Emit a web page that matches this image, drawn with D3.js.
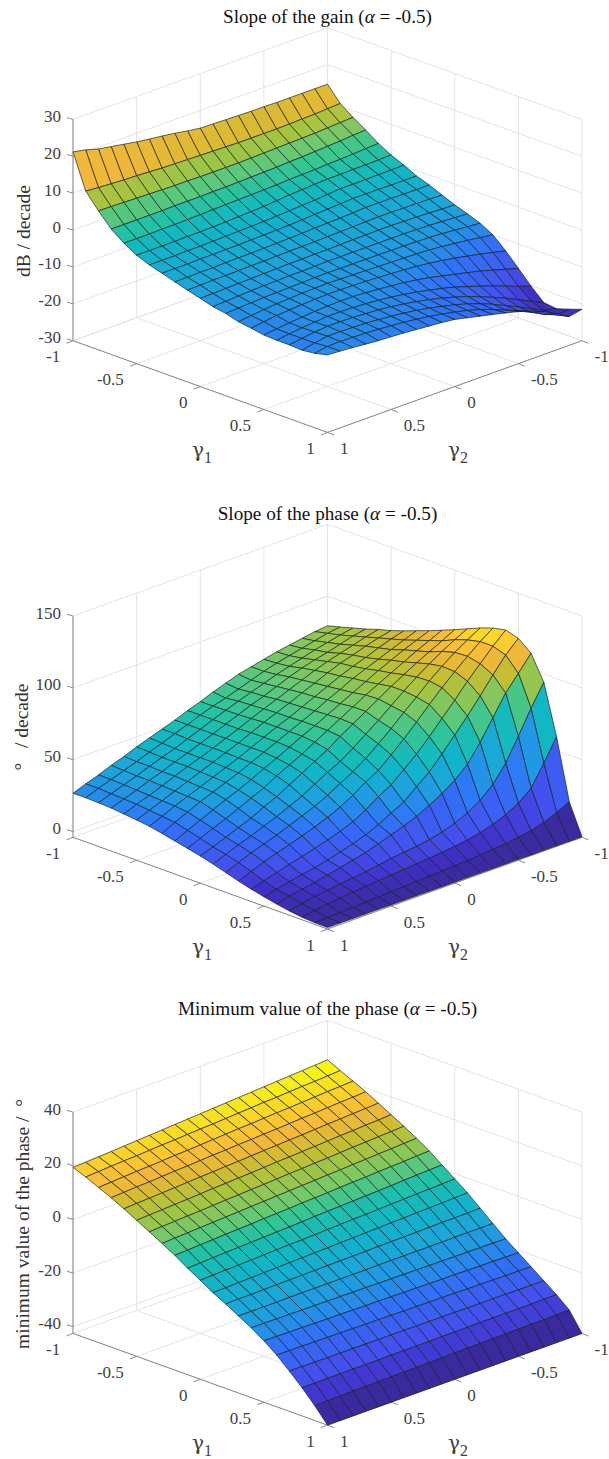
<!DOCTYPE html>
<html lang="en">
<head>
    <meta charset="utf-8">
    <script src="https://d3js.org/d3.v7.min.js"></script>
    <style>
        html, body { margin: 0; background: white; }
        svg { display: block; }
        text { font-family: "Liberation Serif", serif; }
    </style>
</head>
<body>
    <svg id="plot" width="609" height="1459"></svg>
    <script>
    // rows are gamma1 = -1 ... 1, columns are gamma2 = -1 ... 1, step 0.1
    const gammaGrid = [-1,-0.9,-0.8,-0.7,-0.6,-0.5,-0.4,-0.3,-0.2,-0.1,0,0.1,0.2,0.3,0.4,0.5,0.6,0.7,0.8,0.9,1];
    const gammaTicks = [-1,-0.5,0,0.5,1];
    const gainTicks = [-30,-20,-10,0,10,20,30];
    const phaseTicks = [0,50,100,150];
    const minPhaseTicks = [-40,-20,0,20,40];

    const gainSlope = [
        [14.7,14.7,14.7,14.7,14.7,14.8,14.8,14.9,15,15.1,15.2,15.7,16.3,16.8,17.2,17.7,18.3,18.9,19.5,20.5,21.2],
        [10.7,10.5,10.3,10.2,10.1,10,10,10,10,10.1,10.2,10.3,10.4,10.5,10.6,10.8,11,11.1,11.3,11.5,11.8],
        [8.2,8,7.8,7.6,7.5,7.4,7.3,7.2,7.1,7,7,7,7,7.1,7.1,7.2,7.3,7.4,7.5,7.6,7.7],
        [6,5.8,5.5,5.3,5.1,4.9,4.8,4.6,4.5,4.4,4.3,4.2,4.2,4.1,4.1,4.1,4,4,4,4,4],
        [3.6,3.4,3.2,3,2.9,2.7,2.6,2.5,2.3,2.2,2.1,2,1.9,1.8,1.7,1.6,1.5,1.5,1.4,1.4,1.4],
        [1.7,1.6,1.5,1.5,1.4,1.4,1.2,1,0.8,0.5,0.2,0,-0.1,-0.3,-0.4,-0.5,-0.5,-0.6,-0.6,-0.6,-0.6],
        [0.2,0.1,0.1,0,0,0,-0.3,-0.6,-0.8,-1,-1.2,-1.4,-1.5,-1.6,-1.7,-1.8,-1.9,-1.9,-2,-2,-2],
        [-1.5,-1.5,-1.5,-1.4,-1.4,-1.4,-1.6,-1.8,-2,-2.2,-2.4,-2.5,-2.6,-2.7,-2.8,-2.8,-2.9,-2.9,-3,-3,-3],
        [-2.7,-2.7,-2.7,-2.6,-2.6,-2.6,-2.8,-3,-3.1,-3.2,-3.4,-3.5,-3.6,-3.7,-3.8,-3.8,-3.9,-4,-4,-4.1,-4.1],
        [-4.2,-4.1,-4,-4,-3.9,-3.9,-4,-4.1,-4.2,-4.3,-4.4,-4.5,-4.5,-4.6,-4.7,-4.7,-4.8,-4.9,-4.9,-5,-5.1],
        [-5.6,-5.5,-5.3,-5.2,-5.1,-5,-5,-5.1,-5.1,-5.2,-5.3,-5.3,-5.4,-5.4,-5.5,-5.6,-5.7,-5.8,-5.9,-6,-6.1],
        [-6.8,-6.6,-6.4,-6.2,-6.1,-6,-6,-6,-6,-6,-6,-6,-6.1,-6.2,-6.2,-6.3,-6.4,-6.5,-6.7,-6.9,-7.1],
        [-8.1,-7.8,-7.5,-7.2,-7,-6.9,-6.8,-6.8,-6.7,-6.7,-6.7,-6.7,-6.6,-6.7,-6.8,-6.9,-7,-7.1,-7.3,-7.5,-7.7],
        [-10,-9.5,-9,-8.6,-8.2,-7.9,-7.7,-7.6,-7.5,-7.4,-7.3,-7.2,-7.1,-7,-7.1,-7.2,-7.4,-7.6,-7.9,-8.3,-8.7],
        [-13.1,-12.3,-11.5,-10.8,-10.1,-9.5,-9,-8.6,-8.3,-8.1,-7.9,-7.7,-7.6,-7.5,-7.5,-7.6,-7.8,-8,-8.3,-8.7,-9.2],
        [-16.6,-15.6,-14.6,-13.6,-12.8,-12,-11.2,-10.4,-9.8,-9.3,-8.9,-8.6,-8.3,-8.1,-8.1,-8.2,-8.4,-8.7,-9,-9.4,-9.8],
        [-20.2,-19,-17.7,-16.4,-15.2,-14.1,-13,-12.1,-11.3,-10.6,-10,-9.5,-9.1,-8.8,-8.6,-8.5,-8.5,-8.8,-9.1,-9.5,-10],
        [-23.4,-21.8,-20.1,-18.5,-17,-15.6,-14.3,-13.2,-12.2,-11.4,-10.7,-10.1,-9.6,-9.2,-9,-8.8,-8.7,-8.7,-9,-9.5,-10],
        [-23.8,-23,-21.3,-19.6,-18,-16.4,-15,-13.8,-12.8,-12,-11.2,-10.6,-10.1,-9.7,-9.4,-9.1,-9,-8.9,-8.9,-9.5,-10.2],
        [-22.7,-23,-21.6,-19.8,-18.2,-16.7,-15.3,-14.1,-13.1,-12.3,-11.6,-11,-10.5,-10.1,-9.8,-9.5,-9.3,-9.2,-9.1,-9.2,-9.8],
        [-21.5,-22.2,-20.1,-18.4,-17,-15.9,-15,-14.2,-13.4,-12.6,-11.8,-11.4,-11.1,-10.8,-10.5,-10.3,-10.1,-9.8,-9.5,-9.2,-9]
    ];

    const phaseSlope = [
        [79.4,78.5,77,75.5,74,72,70,68,65,62,58.5,55.5,52,49,46,43,39.5,36.5,33,30,26.6],
        [81.7,80.5,78.5,76.5,74.5,72.5,70,67,64,61,58.6,55.5,52,49,45.5,42.5,39,36,33,30,26.7],
        [84.2,82.5,80.5,78.5,76,73.5,71,68,65,62,58.8,55.5,52,48.5,45,42,39,35.5,32.5,29.5,26.4],
        [86.7,85,82.5,80,78,75.5,72.5,69,65.5,62.5,59,55.5,52,48.5,45,42,38.5,35.5,32,29,25.9],
        [89.6,87.5,85,82.5,80,77,73.5,70,66.5,63,59.5,55.5,52,48.5,45,42,38.5,35,31.5,28.5,25],
        [92,90,87.5,84.5,82,78.5,74.5,71,67,63.5,60,56,52,48.5,45,41.5,38,34.5,31,27.5,24],
        [95,92.5,89.5,86,83,79.5,75.5,71.5,67.5,63.5,60,56,52,48,44.5,41,37.5,34,30.5,26.5,22.8],
        [98.3,95,91.5,88,84.5,81,76.5,72.5,68,64,60,56,52,48,44,40.5,37,33.5,29.5,25.5,21],
        [101.5,98,94.5,90.5,86.5,82,77.5,73,68.5,64,60,55.5,51,47,42.5,38.5,35,31,27,23.2,19],
        [105,101,97,92.5,88,83.5,79,74,69,64,59,54,49.5,45,40,36,32,28,24.5,20.8,17],
        [108.6,104,99.5,95,90,85,79.5,74,68.5,63,57,52,47,42,37,33,28.5,25,21.5,18,14.9],
        [112.4,108,103,97.5,91.5,85,78,71,64.5,58,52,47.5,42.5,37.5,33.5,29.5,26,22.5,19.5,16,12.5],
        [116.2,111,105.5,99,92,84,76.5,68.5,61,54,48,43,38,33.5,30,26.5,23,20,17,13.5,9.8],
        [119.3,113,106,98.5,90.5,82,73,64.5,56.5,49,44,38,33,29,25.5,22.5,19.5,16.8,14,10.5,7],
        [121.1,113,104,95,85,75.5,66,57,49.5,42,37,31,26,22.5,19.5,17,14.5,12.2,9.8,7.2,4.6],
        [118.5,110,99.4,88,77.2,67.2,57.2,47.8,40.8,33.3,28.8,24,20,17,14.5,12,10,8.3,6.6,4.5,2.5],
        [111.3,100.5,90,76,62,50,42,36,31,26.5,23,20,17,14,12,10,8,6,4.5,3,0.6],
        [94.3,79.4,63,47.5,36,28,22.5,18.5,15.5,13.5,12,11,10,8.5,7,6,5,3.8,2.6,1,-1],
        [59.6,44.3,30,23,18,14.5,12,10,8.8,7.8,7,6.3,5.5,4.8,4,3.3,2.5,1.5,0.5,-0.8,-2.2],
        [17.6,13.1,9.5,7,5.5,4.3,3.5,2.8,2.2,1.7,1.2,0.8,0.3,-0.1,-0.5,-0.9,-1.3,-1.7,-2.1,-2.5,-2.8],
        [-3.6,-3.6,-3.5,-3.5,-3.5,-3.4,-3.4,-3.4,-3.3,-3.3,-3.3,-3.3,-3.2,-3.2,-3.2,-3.2,-3.1,-3.1,-3.1,-3,-3]
    ];

    const minPhase = [
        [25.3,25,24.7,24.4,24.1,23.8,23.5,23.2,22.9,22.6,22.3,22,21.7,21.4,21.1,20.8,20.5,20.2,19.9,19.6,19.4],
        [23,22.7,22.4,22.2,21.9,21.6,21.4,21.1,20.8,20.5,20.2,20,19.7,19.4,19.2,18.9,18.6,18.4,18.1,17.8,17.5],
        [20.8,20.5,20.3,20,19.7,19.4,19.2,18.9,18.6,18.4,18.1,17.8,17.5,17.2,17,16.7,16.4,16.2,15.9,15.6,15.3],
        [18.5,18.2,18,17.7,17.4,17.2,16.9,16.6,16.4,16.1,15.9,15.6,15.4,15.1,14.8,14.6,14.3,14,13.8,13.5,13.2],
        [16,15.7,15.5,15.2,15,14.7,14.4,14.2,13.9,13.7,13.4,13.1,12.9,12.6,12.4,12.1,11.8,11.6,11.3,11.1,10.8],
        [13.4,13.1,12.9,12.6,12.4,12.1,11.8,11.6,11.3,11.1,10.8,10.5,10.3,10,9.8,9.5,9.2,9,8.7,8.5,8.2],
        [10.8,10.5,10.3,10,9.8,9.5,9.2,9,8.7,8.5,8.2,7.9,7.7,7.4,7.2,6.9,6.6,6.4,6.1,5.9,5.6],
        [8,7.8,7.5,7.3,7,6.8,6.5,6.3,6,5.8,5.5,5.3,5,4.8,4.5,4.3,4,3.8,3.5,3.3,3],
        [5,4.8,4.5,4.3,4.1,3.8,3.6,3.4,3.1,2.9,2.7,2.4,2.2,2,1.7,1.5,1.3,1,0.8,0.5,0.3],
        [1.5,1.3,1.1,0.9,0.6,0.4,0.2,0,-0.2,-0.4,-0.6,-0.9,-1.1,-1.3,-1.5,-1.7,-1.9,-2.1,-2.3,-2.6,-2.8],
        [-2,-2.2,-2.4,-2.5,-2.7,-2.9,-3.1,-3.3,-3.4,-3.6,-3.8,-4,-4.2,-4.3,-4.5,-4.7,-4.9,-5.1,-5.2,-5.4,-5.6],
        [-5.5,-5.7,-5.8,-6,-6.1,-6.3,-6.4,-6.6,-6.7,-6.9,-7,-7.2,-7.3,-7.5,-7.6,-7.8,-7.9,-8.1,-8.2,-8.4,-8.5],
        [-9.5,-9.6,-9.7,-9.7,-9.8,-9.9,-10,-10,-10.1,-10.2,-10.3,-10.3,-10.4,-10.5,-10.6,-10.6,-10.7,-10.8,-10.9,-10.9,-11],
        [-13.5,-13.5,-13.5,-13.5,-13.6,-13.6,-13.6,-13.6,-13.6,-13.6,-13.7,-13.7,-13.7,-13.7,-13.7,-13.7,-13.7,-13.8,-13.8,-13.8,-13.8],
        [-17.5,-17.4,-17.4,-17.3,-17.3,-17.2,-17.2,-17.1,-17.1,-17,-17,-16.9,-16.9,-16.8,-16.8,-16.7,-16.7,-16.6,-16.6,-16.5,-16.5],
        [-21,-20.9,-20.8,-20.8,-20.7,-20.6,-20.6,-20.5,-20.4,-20.4,-20.3,-20.2,-20.2,-20.1,-20,-20,-19.9,-19.8,-19.8,-19.7,-19.6],
        [-24.5,-24.4,-24.4,-24.3,-24.2,-24.2,-24.1,-24,-24,-23.9,-23.9,-23.8,-23.7,-23.7,-23.6,-23.5,-23.5,-23.4,-23.3,-23.3,-23.2],
        [-28,-28,-28,-27.9,-27.9,-27.9,-27.9,-27.8,-27.8,-27.8,-27.8,-27.7,-27.7,-27.7,-27.7,-27.6,-27.6,-27.6,-27.6,-27.5,-27.5],
        [-31.5,-31.5,-31.6,-31.6,-31.6,-31.6,-31.6,-31.7,-31.7,-31.7,-31.8,-31.8,-31.8,-31.8,-31.9,-31.9,-31.9,-31.9,-31.9,-32,-32],
        [-35.5,-35.6,-35.7,-35.7,-35.8,-35.9,-35.9,-36,-36,-36.1,-36.2,-36.3,-36.4,-36.4,-36.5,-36.6,-36.6,-36.7,-36.8,-36.9,-37],
        [-42.5,-42.5,-42.5,-42.5,-42.5,-42.5,-42.5,-42.5,-42.5,-42.5,-42.5,-42.5,-42.5,-42.5,-42.5,-42.5,-42.5,-42.5,-42.5,-42.5,-42.5]
    ];

    const colormapStops = [0,0.05,0.1,0.2,0.25,0.3,0.375,0.45,0.5,0.6,0.7,0.78,0.85,0.9,1];
    const colormapColors = ["#3b2a9f","#4030c8","#4450ee","#3074f8","#2590e8","#1ca5dc","#10b6c8","#1cbfae","#32c596","#6ec96e","#a8c43f","#d4bb30","#f6b73a","#fdc82e","#f6f614"];

    const svg = d3.select("#plot");
    const colormap = d3.scaleLinear().domain(colormapStops).range(colormapColors).clamp(true);

    const halfWidth = 254.5;
    const floorDrop = 91.7;
    const boxHeight = 221.3;

    function drawSurface(opts) {
        const left = 73;
        const g = svg.append("g");

        // gamma1 pushes right and down, gamma2 pushes left and down
        const xG1 = d3.scaleLinear().domain([-1, 1]).range([0, halfWidth]);
        const xG2 = d3.scaleLinear().domain([-1, 1]).range([halfWidth, 0]);
        const yG = d3.scaleLinear().domain([-1, 1]).range([0, floorDrop]);
        const zScale = d3.scaleLinear().domain(opts.zLim).range([0, boxHeight]);
        const tone = d3.scaleLinear().domain(opts.toneZ).range(opts.toneValue).clamp(true);

        const project = (g1, g2, z) => [
            left + xG1(g1) + xG2(g2),
            opts.backFloor + yG(g1) + yG(g2) - zScale(z)
        ];
        const zMin = opts.zLim[0], zMax = opts.zLim[1];

        function line(a, b, stroke, width) {
            g.append("line")
                .attr("x1", a[0]).attr("y1", a[1])
                .attr("x2", b[0]).attr("y2", b[1])
                .attr("stroke", stroke).attr("stroke-width", width);
        }

        // walls and floor
        const gridColor = "#e4e4e4";
        gammaTicks.forEach(t => {
            line(project(t, -1, zMin), project(t, 1, zMin), gridColor, 1);
            line(project(-1, t, zMin), project(1, t, zMin), gridColor, 1);
            line(project(-1, t, zMin), project(-1, t, zMax), gridColor, 1);
            line(project(t, -1, zMin), project(t, -1, zMax), gridColor, 1);
        });
        opts.ticks.forEach(t => {
            line(project(-1, 1, t), project(-1, -1, t), gridColor, 1);
            line(project(-1, -1, t), project(1, -1, t), gridColor, 1);
        });

        // axis lines and ticks
        const axisColor = "#8a8a8a";
        line(project(-1, 1, zMin), project(1, 1, zMin), axisColor, 1);
        line(project(1, 1, zMin), project(1, -1, zMin), axisColor, 1);
        line(project(-1, 1, zMin), project(-1, 1, zMax), "#aaaaaa", 1.5);

        opts.ticks.forEach(t => {
            const p = project(-1, 1, t);
            line(p, [p[0] - 6, p[1] - 1.8], axisColor, 1);
            g.append("text")
                .attr("x", p[0] - 12)
                .attr("y", p[1] + 2.5)
                .attr("text-anchor", "end")
                .attr("font-size", 17)
                .attr("fill", "#404040")
                .text(t);
        });
        gammaTicks.forEach(t => {
            const a = project(t, 1, zMin);
            line(a, [a[0] - 6.5, a[1] + 2.6], axisColor, 1);
            g.append("text")
                .attr("x", a[0] - 12.8)
                .attr("y", a[1] + 21.5)
                .attr("text-anchor", "end")
                .attr("font-size", 17)
                .attr("fill", "#404040")
                .text(t);
            const b = project(1, t, zMin);
            line(b, [b[0] + 6.5, b[1] + 2.6], axisColor, 1);
            g.append("text")
                .attr("x", b[0] + 12.5)
                .attr("y", b[1] + 21.5)
                .attr("text-anchor", "start")
                .attr("font-size", 17)
                .attr("fill", "#404040")
                .text(t);
        });

        // faces, back corner first so nearer ones paint over
        const faces = [];
        for (let i = 0; i < gammaGrid.length - 1; i++) {
            for (let j = 0; j < gammaGrid.length - 1; j++) {
                faces.push({i, j});
            }
        }
        faces.sort((a, b) => (a.i + a.j) - (b.i + b.j));

        const zz = opts.values;
        g.selectAll("path.face")
            .data(faces)
            .enter().append("path")
            .attr("class", "face")
            .attr("d", d => {
                const pts = [
                    project(gammaGrid[d.i], gammaGrid[d.j], zz[d.i][d.j]),
                    project(gammaGrid[d.i + 1], gammaGrid[d.j], zz[d.i + 1][d.j]),
                    project(gammaGrid[d.i + 1], gammaGrid[d.j + 1], zz[d.i + 1][d.j + 1]),
                    project(gammaGrid[d.i], gammaGrid[d.j + 1], zz[d.i][d.j + 1])
                ];
                return "M" + pts.map(p => p.join(",")).join("L") + "Z";
            })
            // flat colour comes from the nearest corner of the facet
            .attr("fill", d => colormap(tone(zz[d.i + 1][d.j + 1])))
            .attr("stroke", "#14201f")
            .attr("stroke-width", 0.75)
            .attr("stroke-opacity", 0.9)
            .attr("stroke-linejoin", "round");

        // title
        const title = g.append("text")
            .attr("x", 327.5)
            .attr("y", opts.titleY)
            .attr("text-anchor", "middle")
            .attr("font-size", 19.2)
            .attr("fill", "#111");
        title.append("tspan").text(opts.title + " (");
        title.append("tspan").attr("font-style", "italic").text("\u03b1");
        title.append("tspan").text(" = -0.5)");

        // gamma labels
        const front = project(1, 1, zMin);
        [["1", 202], ["2", 458]].forEach(d => {
            const label = g.append("text")
                .attr("x", d[1])
                .attr("y", front[1] + 25)
                .attr("text-anchor", "middle")
                .attr("fill", "#404040");
            label.append("tspan")
                .attr("font-family", "DejaVu Serif")
                .attr("font-size", 20)
                .text("\u03b3");
            label.append("tspan").attr("dy", 6).attr("font-size", 16).text(d[0]);
        });

        // z label
        g.append("text")
            .attr("transform", `translate(${opts.labelX},${opts.labelY}) rotate(-90)`)
            .attr("text-anchor", "middle")
            .attr("font-size", opts.labelSize)
            .attr("fill", "#333")
            .style("white-space", "pre")
            .text(opts.label);
    }

    drawSurface({
        title: "Slope of the gain", titleY: 23,
        values: gainSlope, ticks: gainTicks, zLim: [-30, 30], backFloor: 249,
        toneZ: [-25, -15, -8, -5.5, -3, -1, 1, 2.5, 5, 7.5, 11, 21],
        toneValue: [0, 0.15, 0.26, 0.3, 0.34, 0.39, 0.45, 0.5, 0.6, 0.7, 0.83, 1],
        label: "dB / decade", labelX: 30, labelY: 231, labelSize: 19.5
    });

    drawSurface({
        title: "Slope of the phase", titleY: 520,
        values: phaseSlope, ticks: phaseTicks, zLim: [-4, 150], backFloor: 745.6,
        toneZ: [-3.6, 121], toneValue: [0, 1],
        label: "\u00b0   / decade", labelX: 28, labelY: 727, labelSize: 19.5
    });

    drawSurface({
        title: "Minimum value of the phase", titleY: 1015,
        values: minPhase, ticks: minPhaseTicks, zLim: [-42.5, 40], backFloor: 1241.7,
        toneZ: [-42.5, -36, -32, -27.5, -23, -19.6, -10, -3, 3, 8, 13, 18, 23],
        toneValue: [0, 0.07, 0.1, 0.15, 0.2, 0.25, 0.35, 0.45, 0.62, 0.72, 0.83, 0.92, 1],
        label: "minimum value of the phase /  \u00b0", labelX: 29, labelY: 1224, labelSize: 19.5
    });
    </script>
</body>
</html>
